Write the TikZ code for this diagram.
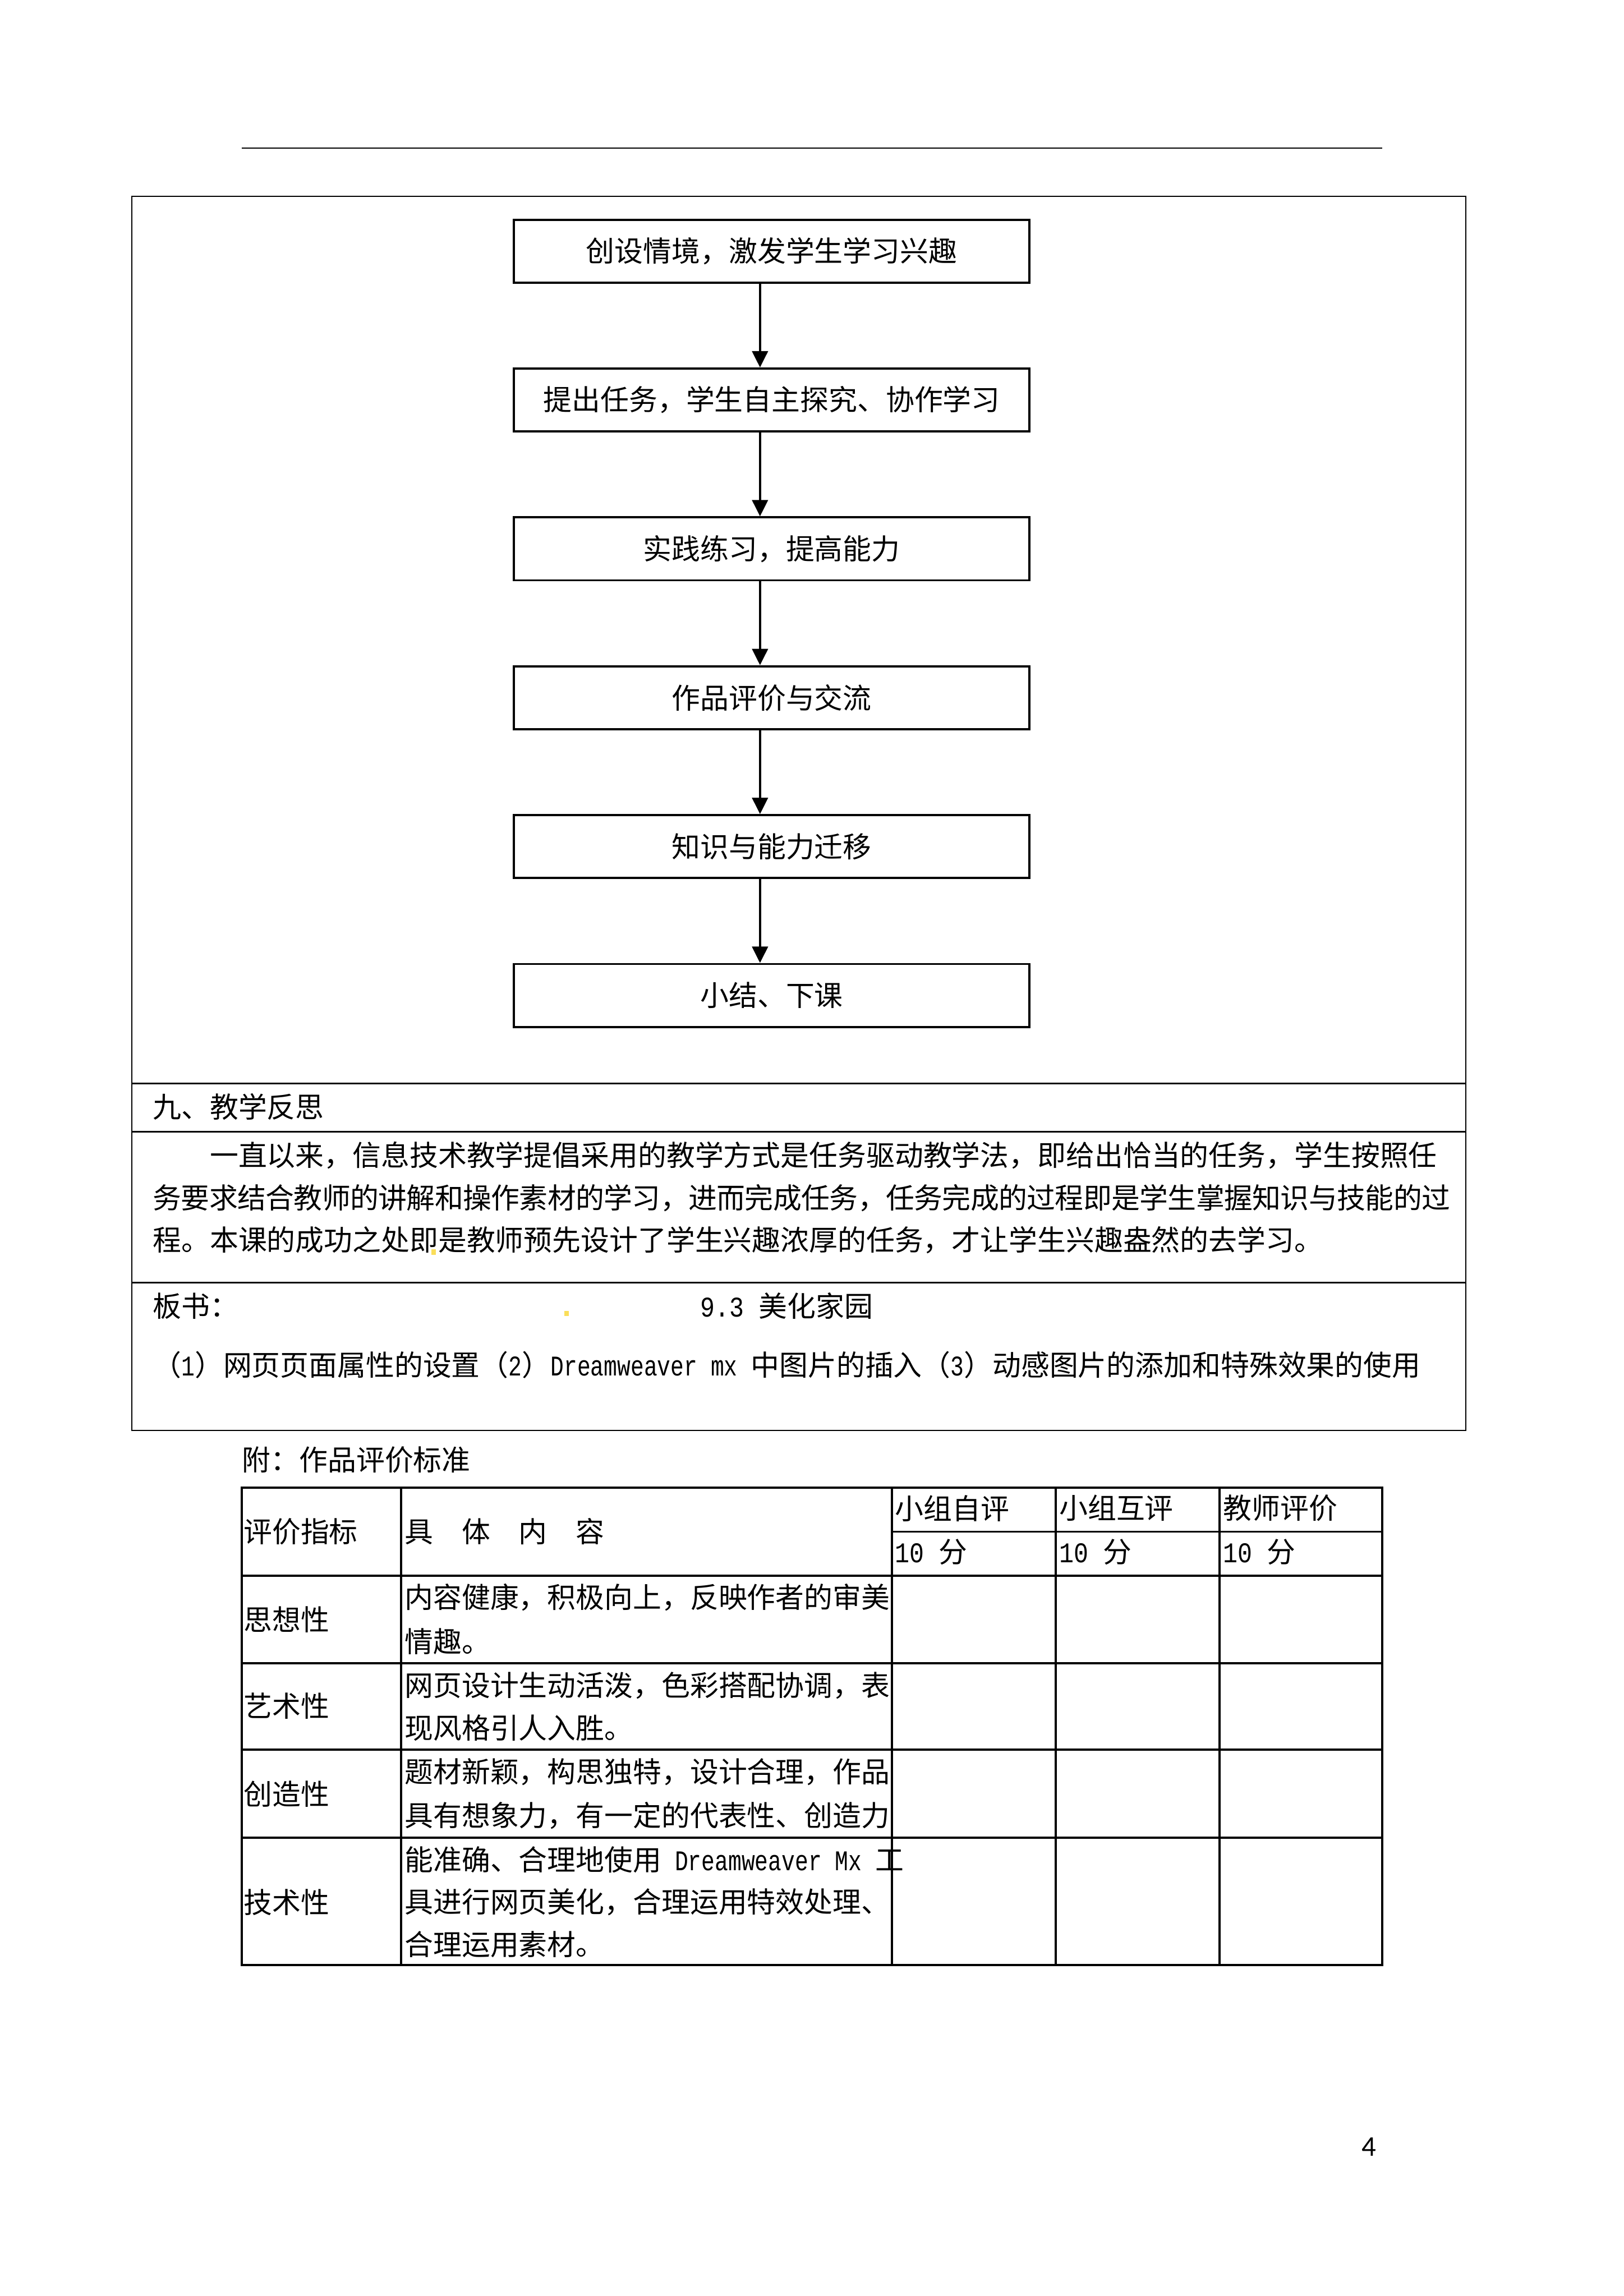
\documentclass[tikz,border=0pt]{standalone}
\usepackage{fontspec}
\setmainfont{Noto Sans CJK SC}
\newfontfamily\hw[FakeStretch=0.85]{Liberation Mono}
\newfontfamily\hwnarrow[FakeStretch=0.78]{Liberation Mono}
\newfontfamily\pagenofont{Carlito}
\usetikzlibrary{arrows.meta, positioning}
\definecolor{markyellow}{RGB}{250,222,90}

\begin{document}
\begin{tikzpicture}[
    x=0.18936mm, y=-0.18936mm,
    node distance=10.83mm,
    every node/.style={font=\fontsize{10.5pt}{12pt}\selectfont, inner sep=0pt},
    stepbox/.style={rectangle, draw, line width=0.8pt, minimum width=66.65mm, minimum height=8.14mm, align=center},
    arrow/.style={-{Triangle[length=6pt,width=5.8pt]}, line width=0.8pt},
    txt/.style={anchor=west},
    frameline/.style={line width=0.45pt},
    rowline/.style={line width=0.65pt},
    gridline/.style={line width=0.8pt},
    hilite/.style={fill=markyellow, minimum width=0.6mm, minimum height=0.7mm}
]
\useasboundingbox (0,0) rectangle (1109,1568);

\draw[frameline] (165,101) -- (944,101);

\draw[frameline] (90,134) rectangle (1001,977);
\draw[rowline] (90,740) -- (1001,740);
\draw[rowline] (90,773) -- (1001,773);
\draw[rowline] (90,876) -- (1001,876);

\node[stepbox] (intro) at (527,171.5) {创设情境，激发学生学习兴趣};
\node[stepbox, below=of intro] (task) {提出任务，学生自主探究、协作学习};
\node[stepbox, below=of task] (practice) {实践练习，提高能力};
\node[stepbox, below=of practice] (review) {作品评价与交流};
\node[stepbox, below=of review] (transfer) {知识与能力迁移};
\node[stepbox, below=of transfer] (summary) {小结、下课};

\draw[arrow] ([xshift=-1.51mm]intro.south) -- ([xshift=-1.51mm]task.north);
\draw[arrow] ([xshift=-1.51mm]task.south) -- ([xshift=-1.51mm]practice.north);
\draw[arrow] ([xshift=-1.51mm]practice.south) -- ([xshift=-1.51mm]review.north);
\draw[arrow] ([xshift=-1.51mm]review.south) -- ([xshift=-1.51mm]transfer.north);
\draw[arrow] ([xshift=-1.51mm]transfer.south) -- ([xshift=-1.51mm]summary.north);

\node[txt] (reflecthead) at (104,756) {九、教学反思};
\node[txt] (reflect1) at (143,789) {一直以来，信息技术教学提倡采用的教学方式是任务驱动教学法，即给出恰当的任务，学生按照任};
\node[txt] (reflect2) at (104,818) {\addfontfeature{LetterSpace=-1.2}务要求结合教师的讲解和操作素材的学习，进而完成任务，任务完成的过程即是学生掌握知识与技能的过};
\node[txt] (reflect3) at (104,847) {程。本课的成功之处即是教师预先设计了学生兴趣浓厚的任务，才让学生兴趣盎然的去学习。};
\node[hilite] (mark1) at (296,855) {};

\node[txt] (boardhead) at (104,892) {板书：};
\node[hilite] (mark2) at (387,897) {};
\node[txt] (boardtitle) at (478,892) {{\hw 9.3 }美化家园};
\node[txt] (boardline) at (104,932) {（{\hwnarrow 1}）网页页面属性的设置（{\hwnarrow 2}）{\hwnarrow Dreamweaver mx }中图片的插入（{\hwnarrow 3}）动感图片的添加和特殊效果的使用};

\node[txt] (tabletitle) at (165,997) {附：作品评价标准};

\draw[gridline] (165,1016) rectangle (944,1342);
\foreach \x in {274,609,721,833}
    \draw[gridline] (\x,1016) -- (\x,1342);
\foreach \y in {1076,1136,1195,1255}
    \draw[gridline] (165,\y) -- (944,\y);
\draw[gridline] (609,1046) -- (944,1046);

\node[txt] (colindex) at (166,1046) {评价指标};
\node[txt] (colcontent) at (276,1046) {具\quad 体\quad 内\quad 容};
\node[txt] (colself) at (611,1030) {小组自评};
\node[txt] (colpeer) at (723,1030) {小组互评};
\node[txt] (colteacher) at (835,1030) {教师评价};
\node[txt] (scoreself) at (611,1060) {{\hw 10 }分};
\node[txt] (scorepeer) at (723,1060) {{\hw 10 }分};
\node[txt] (scoreteacher) at (835,1060) {{\hw 10 }分};

\node[txt] (idea) at (166,1106) {思想性};
\node[txt] (ideaa) at (276,1091) {内容健康，积极向上，反映作者的审美};
\node[txt] (ideab) at (276,1121) {情趣。};
\node[txt] (art) at (166,1165) {艺术性};
\node[txt] (arta) at (276,1151) {网页设计生动活泼，色彩搭配协调，表};
\node[txt] (artb) at (276,1180) {现风格引人入胜。};
\node[txt] (create) at (166,1225) {创造性};
\node[txt] (createa) at (276,1210) {题材新颖，构思独特，设计合理，作品};
\node[txt] (createb) at (276,1240) {具有想象力，有一定的代表性、创造力};
\node[txt] (tech) at (166,1299) {技术性};
\node[txt] (techa) at (276,1270) {能准确、合理地使用{\hwnarrow\ Dreamweaver Mx }工};
\node[txt] (techb) at (276,1299) {具进行网页美化，合理运用特效处理、};
\node[txt] (techc) at (276,1328) {合理运用素材。};

\node[font=\pagenofont\fontsize{10.5pt}{12pt}\selectfont] (pageno) at (935,1466) {4};
\end{tikzpicture}
\end{document}
